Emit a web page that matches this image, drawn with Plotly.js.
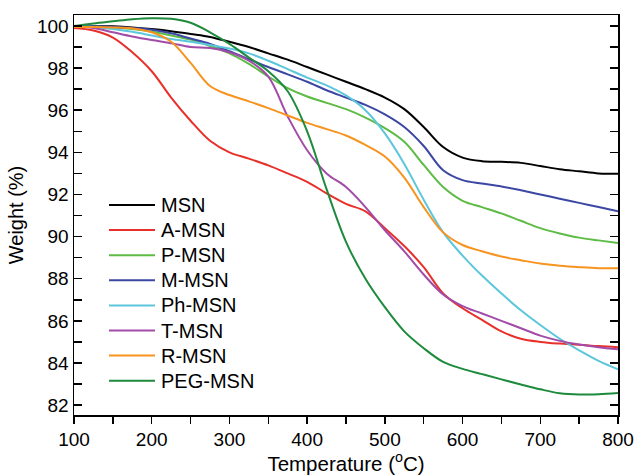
<!DOCTYPE html>
<html>
<head>
<meta charset="utf-8">
<script src="https://cdn.plot.ly/plotly-3.0.1.min.js"></script>
<style>html,body{margin:0;padding:0;background:#fff;}#chart{width:638px;height:475px;}</style>
</head>
<body>
<div id="chart"></div>
<script>
const temperature = [100,125,150,175,200,225,250,275,300,325,350,375,400,425,450,475,500,525,550,575,600,625,650,675,700,725,750,775,800];

const seriesNames = ["MSN","A-MSN","P-MSN","M-MSN","Ph-MSN","T-MSN","R-MSN","PEG-MSN"];

const msn   = [100.0,100.0,99.98,99.93,99.85,99.75,99.62,99.48,99.25,99.0,98.7,98.4,98.05,97.7,97.35,97.0,96.6,96.05,95.2,94.25,93.75,93.58,93.55,93.5,93.35,93.2,93.1,93.0,92.98];
const aMsn  = [99.9,99.78,99.45,98.75,97.85,96.6,95.5,94.55,94.0,93.7,93.38,93.0,92.6,92.05,91.55,91.2,90.4,89.55,88.55,87.3,86.6,86.05,85.5,85.15,85.0,84.92,84.87,84.8,84.75];
const pMsn  = [100.0,99.98,99.92,99.85,99.72,99.55,99.35,99.05,98.7,98.2,97.6,97.05,96.65,96.35,96.05,95.65,95.15,94.5,93.4,92.35,91.7,91.4,91.1,90.75,90.4,90.15,89.95,89.82,89.7];
const mMsn  = [100.0,99.98,99.95,99.9,99.82,99.65,99.4,99.15,98.8,98.42,98.05,97.7,97.35,96.95,96.6,96.25,95.8,95.2,94.3,93.15,92.68,92.52,92.38,92.2,92.0,91.8,91.6,91.4,91.2];
const phMsn = [100.0,99.95,99.85,99.72,99.55,99.38,99.25,99.1,98.93,98.7,98.35,97.95,97.55,97.18,96.7,96.0,94.9,93.45,91.75,90.2,89.1,88.15,87.3,86.5,85.8,85.15,84.6,84.1,83.7];
const tMsn  = [100.0,99.9,99.7,99.5,99.33,99.18,99.0,98.95,98.75,98.35,97.6,95.7,94.1,93.0,92.35,91.4,90.3,89.3,88.2,87.25,86.7,86.35,86.0,85.65,85.3,85.05,84.88,84.75,84.65];
const rMsn  = [99.95,99.95,99.93,99.88,99.7,99.25,98.25,97.15,96.72,96.42,96.1,95.75,95.4,95.1,94.8,94.35,93.8,92.8,91.4,90.2,89.6,89.3,89.05,88.88,88.72,88.62,88.55,88.5,88.5];
const pegMsn= [100.0,100.12,100.22,100.32,100.37,100.34,100.15,99.7,99.15,98.5,97.85,96.9,95.0,92.25,89.75,88.0,86.65,85.5,84.7,84.05,83.72,83.47,83.22,82.98,82.75,82.56,82.5,82.52,82.58];

const xTickVals = [100,200,300,400,500,600,700,800];
const yTickVals = [82,84,86,88,90,92,94,96,98,100];

const seriesValues = [msn,aMsn,pMsn,mMsn,phMsn,tMsn,rMsn,pegMsn];
const seriesColors = ["#000000","#E8302A","#5DBB46","#3B47A3","#5CC6DC","#A24BA8","#F7931E","#1E8A3C"];

const traces = seriesNames.map((name,i) => ({
  x: temperature,
  y: seriesValues[i],
  name: name,
  type: "scatter",
  mode: "lines",
  showlegend: false,
  line: {color: seriesColors[i], width: 2, shape: "spline", smoothing: 1}
}));

const font = "Liberation Sans, Arial, sans-serif";

// legend drawn in paper coordinates (plot area: 74..618 px wide, 15..415 px tall)
const plotW = 544, plotH = 400;
const legendTop = 205, legendStep = 25.1;
const legendShapes = seriesNames.map((name,i) => {
  const py = legendTop + legendStep * i;
  const yp = (415 - py) / plotH;
  return {type: "line", xref: "paper", yref: "paper",
          x0: (109 - 74) / plotW, x1: (155 - 74) / plotW, y0: yp, y1: yp,
          line: {color: seriesColors[i], width: 2}};
});
const legendLabels = seriesNames.map((name,i) => {
  const py = legendTop + legendStep * i;
  return {xref: "paper", yref: "paper", x: (159 - 74) / plotW, y: (415 - py) / plotH,
          xanchor: "left", yanchor: "middle", showarrow: false, text: name,
          font: {family: font, size: 20, color: "#000"}};
});

const layout = {
  width: 638, height: 475,
  margin: {l: 74, r: 20, t: 15, b: 60},
  paper_bgcolor: "#fff", plot_bgcolor: "#fff",
  showlegend: false,
  shapes: legendShapes,
  annotations: legendLabels,
  xaxis: {
    range: [100, 800],
    tickmode: "array", tickvals: xTickVals,
    ticks: "outside", ticklen: 7, tickwidth: 1.5, tickcolor: "#000",
    minor: {dtick: 50, tick0: 100, ticks: "outside", ticklen: 7, tickwidth: 1.5, tickcolor: "#000"},
    showline: true, linewidth: 1.5, linecolor: "#000", mirror: true,
    showgrid: false, zeroline: false,
    tickfont: {family: font, size: 19, color: "#000"},
    title: {text: "Temperature (<sup>o</sup>C)", font: {family: font, size: 20.5, color: "#000"}, standoff: 8}
  },
  yaxis: {
    range: [81.53, 100.52],
    tickmode: "array", tickvals: yTickVals,
    ticks: "inside", ticklen: 8, tickwidth: 1.5, tickcolor: "#000",
    minor: {dtick: 1, tick0: 82, ticks: "inside", ticklen: 8, tickwidth: 1.5, tickcolor: "#000"},
    showline: true, linewidth: 1.5, linecolor: "#000", mirror: "ticks",
    showgrid: false, zeroline: false,
    tickfont: {family: font, size: 19, color: "#000"},
    title: {text: "Weight (%)", font: {family: font, size: 20, color: "#000"}, standoff: 8}
  }
};

Plotly.newPlot("chart", traces, layout, {staticPlot: true, displayModeBar: false});
</script>
</body>
</html>
